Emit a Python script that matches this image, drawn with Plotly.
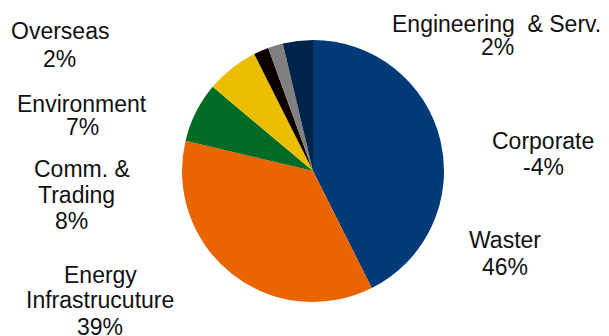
import plotly.graph_objects as go

# Segment share by business line (percent); Corporate is a negative contribution
segments = ["Waster", "Energy Infrastrucuture", "Comm. & Trading", "Environment",
            "Overseas", "Engineering & Serv.", "Corporate"]
shares = [46, 39, 8, 7, 2, 2, -4]
colors = ["#003A78", "#EA6500", "#006B24", "#EBBE00", "#0D0000", "#808080", "#00234A"]

# Label text lines for each segment (the last line is the share)
label_lines = {
    "Waster": ["Waster"],
    "Energy Infrastrucuture": ["Energy", "Infrastrucuture"],
    "Comm. & Trading": ["Comm. &", "Trading"],
    "Environment": ["Environment"],
    "Overseas": ["Overseas"],
    "Engineering & Serv.": ["Engineering&nbsp; & Serv."],
    "Corporate": ["Corporate"],
}
# Line positions in pixels: (x centre, y centre) per line
label_pos = {
    "Waster": [(504.5, 240), (504.5, 266.5)],
    "Energy Infrastrucuture": [(100, 275), (99.5, 300), (100, 327)],
    "Comm. & Trading": [(82, 168.5), (76, 194.5), (71, 220.5)],
    "Environment": [(81.5, 103.5), (82.5, 127)],
    "Overseas": [(60, 31), (59, 59)],
    "Engineering & Serv.": [(496.5, 24.5), (497.5, 46.5)],
    "Corporate": [(543, 141), (543.5, 166.5)],
}

W, H = 609, 336
cx, cy, r = 313, 171, 131

fig = go.Figure(go.Pie(
    labels=segments,
    values=[abs(v) for v in shares],
    sort=False,
    direction="clockwise",
    rotation=0,
    marker=dict(colors=colors, line=dict(width=0)),
    textinfo="none",
    hoverinfo="label+percent",
    showlegend=False,
    domain=dict(x=[(cx - r) / W, (cx + r) / W], y=[1 - (cy + r) / H, 1 - (cy - r) / H]),
))

annotations = []
for name, share in zip(segments, shares):
    lines = label_lines[name] + [f"{share}%"]
    for text, (x, y) in zip(lines, label_pos[name]):
        annotations.append(dict(
            x=x / W, y=1 - y / H, xref="paper", yref="paper",
            text=text, showarrow=False, xanchor="center", yanchor="middle",
            font=dict(family="Liberation Sans, Arial, sans-serif", size=23, color="#111111"),
        ))

fig.update_layout(
    width=W, height=H,
    margin=dict(l=0, r=0, t=0, b=0),
    paper_bgcolor="white",
    plot_bgcolor="white",
    annotations=annotations,
)

fig.write_html("out.html")
